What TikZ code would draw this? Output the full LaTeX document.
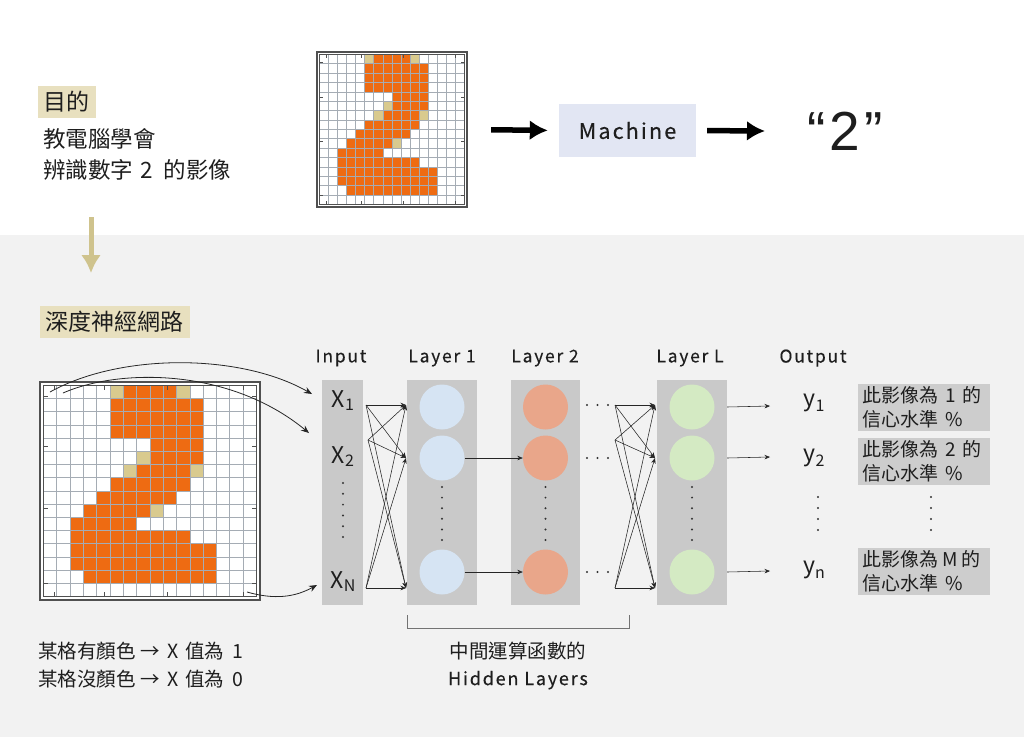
\documentclass[tikz,border=0pt]{standalone}
\usepackage{fontspec}
\setmainfont{Noto Sans CJK TC}
\newfontfamily\latsp[LetterSpace=10,FakeBold=0.3]{Noto Sans CJK TC}
\newfontfamily\arialf{Liberation Sans}
\usetikzlibrary{arrows.meta}
\definecolor{bggray}{HTML}{F2F2F2}
\definecolor{colgray}{HTML}{C9C9C9}
\definecolor{nblue}{HTML}{D6E4F3}
\definecolor{nsalmon}{HTML}{E9A68A}
\definecolor{ngreen}{HTML}{D4EAC3}
\definecolor{cellorange}{HTML}{EE6B12}
\definecolor{cellyellow}{HTML}{D9CA8E}
\definecolor{tanfill}{HTML}{E8E0BF}
\definecolor{tanarrow}{HTML}{CFC38D}
\definecolor{machfill}{HTML}{E2E6F3}
\definecolor{outgray}{HTML}{CDCDCD}
\definecolor{txt}{HTML}{1E1E1E}
\definecolor{cgrid}{HTML}{A5ACB4}
\definecolor{cedge}{HTML}{505050}
\newcommand\netsub[2]{\raisebox{#1}{\fontsize{16}{16}\selectfont #2}}
\newcommand\drawdigit[5]{%
\begin{scope}[shift={(#1,#2)}]
 \fill[white] (0,0) rectangle (#3,#4);
 \draw[cedge, line width=1.1pt] (0,0) rectangle (#3,#4);
 \pgfmathsetlengthmacro\dgcw{(#3-2*#5)/16}
 \pgfmathsetlengthmacro\dgch{(#4-2*#5)/16}
 \begin{scope}[shift={(#5,#5)}, x=\dgcw, y=-\dgch]
  \foreach \r/\a/\b in {0/6/9,1/5/11,2/5/11,3/5/11,4/8/11,5/8/11,6/7/10,7/5/10,8/4/9,9/3/7,10/2/6,11/2/10,12/2/12,13/2/12,14/3/12}
   {\foreach \c in {\a,...,\b} {\fill[cellorange] (\c,\r) rectangle ++(1,1);}}
  \foreach \r/\c in {0/5,0/10,5/7,6/6,6/11,9/8}
   {\fill[cellyellow] (\c,\r) rectangle ++(1,1);}
  \foreach \i in {1,...,15} {\draw[cgrid, line width=0.8pt] (\i,0) -- (\i,16); \draw[cgrid, line width=0.8pt] (0,\i) -- (16,\i);}
  \draw[cedge, line width=0.7pt] (0,0) rectangle (16,16);
  \foreach \t in {0.8,4.6,9.3,15.0} {
   \draw[cedge, line width=0.7pt] (\t,0) -- (\t,0.35);
   \draw[cedge, line width=0.7pt] (\t,16) -- (\t,15.65);
   \draw[cedge, line width=0.7pt] (0,\t) -- (0.35,\t);
   \draw[cedge, line width=0.7pt] (16,\t) -- (15.65,\t);}
 \end{scope}
\end{scope}}
\begin{document}
\begin{tikzpicture}[x=1pt,y=-1pt,
  every node/.style={text=txt},
  tanbox/.style={fill=tanfill, inner xsep=6pt, inner ysep=0pt, minimum height=32pt, font=\fontsize{23}{23}\selectfont},
  bigarrow/.style={line width=5.5pt, draw=black, -{Latex[length=18pt,width=20pt]}},
  tanarr/.style={line width=5pt, draw=tanarrow, -{Latex[length=18pt,width=20pt]}},
  colbox/.style={fill=colgray, minimum height=225pt, inner sep=0pt},
  neuron/.style={circle, minimum size=45pt, inner sep=0pt},
  lbl/.style={font=\latsp\fontsize{17.5}{17.5}\selectfont},
  xlab/.style={font=\fontsize{23}{23}\selectfont, inner sep=1pt},
  net/.style={draw=black!85, line width=0.55pt, -{Stealth[length=5.5pt,width=4.5pt]}},
  curvarr/.style={draw=black!85, line width=0.8pt, -{Stealth[length=8pt,width=6.5pt]}},
  outbox/.style={fill=outgray, minimum width=132pt, minimum height=45pt, text width=124pt, inner xsep=4pt, align=left, font=\fontsize{19}{23.5}\selectfont},
  vdot/.style={fill=black!80},
]
\useasboundingbox (0,0) rectangle (1024,737);
\fill[white] (0,0) rectangle (1024,235);
\fill[bggray] (0,235) rectangle (1024,737);

% ---------- top part ----------
\node[tanbox] (goal) at (66.5,101.5) {目的};
\node[anchor=west, align=left, inner sep=0pt, font=\fontsize{22.5}{31}\selectfont] (desc) at (43,154.5) {教電腦學會\\辨識數字\hspace{7pt}2\hspace{11pt}的影像};
\coordinate (ta) at (91,217);
\coordinate (tb) at (91,273);
\draw[tanarr] (ta) -- (tb);

\drawdigit{317}{52}{150}{155}{2.5}
\node[inner sep=0pt, minimum width=150pt, minimum height=155pt] (gtop) at (392,129.5) {};
\node[fill=machfill, minimum width=137pt, minimum height=53pt, inner sep=0pt, font=\latsp\fontsize{21.5}{21.5}\selectfont] (mach) at (627.5,130.5) {Machine};
\node[font=\arialf\fontsize{55}{55}\selectfont, inner sep=0pt] (q2) at (845,131) {“\kern4pt 2\kern4pt”};
\coordinate (a2e) at (765,131);
\draw[bigarrow, shorten <=24pt, shorten >=11pt] (gtop.east) -- (mach.west);
\draw[bigarrow, shorten <=11pt] (mach.east) -- (a2e);

% ---------- bottom part ----------
\node[tanbox] (dnn) at (114.5,321.5) {深度神經網路};
\drawdigit{40}{382}{220}{218}{3.5}

% columns
\node[colbox, minimum width=41pt] (colI) at (342.5,492.5) {};
\node[colbox, minimum width=70pt] (col1) at (442,492.5) {};
\node[colbox, minimum width=69pt] (col2) at (545.5,492.5) {};
\node[colbox, minimum width=70pt] (colL) at (692,492.5) {};

\node[lbl] (tIn) at (341,358) {Input};
\node[lbl] (tL1) at (442,358) {Layer 1};
\node[lbl] (tL2) at (545,358) {Layer 2};
\node[lbl] (tLL) at (690,358) {Layer L};
\node[lbl] (tOut) at (813,358) {Output};

\node[xlab] (x1) at (343,401) {X\netsub{-3pt}{1}};
\node[xlab] (x2) at (343,457) {X\netsub{-3pt}{2}};
\node[xlab] (xN) at (343,582) {X\netsub{-3pt}{N}};

\node[neuron, fill=nblue] (n11) at (442,407) {};
\node[neuron, fill=nblue] (n12) at (442,458) {};
\node[neuron, fill=nblue] (n13) at (442,572) {};
\node[neuron, fill=nsalmon] (n21) at (545.5,407) {};
\node[neuron, fill=nsalmon] (n22) at (545.5,458) {};
\node[neuron, fill=nsalmon] (n23) at (545.5,572) {};
\node[neuron, fill=ngreen] (nL1) at (692,407) {};
\node[neuron, fill=ngreen] (nL2) at (692,458) {};
\node[neuron, fill=ngreen] (nL3) at (692,572) {};

% vertical dots
\foreach \i in {0,...,5} {
 \fill[vdot] (343,483+\i*10.8) circle (1.1pt);
 \fill[vdot] (442,487+\i*10.6) circle (1.1pt);
 \fill[vdot] (545.5,487+\i*10.6) circle (1.1pt);
 \fill[vdot] (692,487+\i*10.6) circle (1.1pt);}
% horizontal dots
\foreach \yy in {405,458,572} {\foreach \xx in {587,597.5,608} {\fill[vdot] (\xx,\yy) circle (1.1pt);}}

% curved arrows from the picture
\coordinate (g1) at (50,392);
\coordinate (g2) at (63,393);
\coordinate (g3) at (247,592);
\coordinate (e1) at (312,394);
\coordinate (e2) at (309,433);
\coordinate (e3) at (317,585);
\draw[curvarr] (g1) .. controls (120,353) and (240,353) .. (e1);
\draw[curvarr] (g2) .. controls (120,368) and (230,368) .. (e2);
\draw[curvarr] (g3) .. controls (275,600) and (295,597) .. (e3);

% input -> layer 1
\coordinate (s1) at (366,405);
\coordinate (s2) at (368,440);
\coordinate (s3) at (366,588);
\coordinate (t1) at (406,405);
\coordinate (t2) at (406,458);
\coordinate (t3) at (406,588);
\foreach \s in {s1,s2,s3} {\foreach \t in {t1,t2,t3} {\draw[net] (\s) -- (\t);}}

% layer 1 -> layer 2
\draw[net] (n12.east) -- (n22.west);
\draw[net] (n13.east) -- (n23.west);

% ... -> layer L
\coordinate (r1) at (615,405);
\coordinate (r2) at (615,440);
\coordinate (r3) at (615,588);
\coordinate (u1) at (655,405);
\coordinate (u2) at (655,458);
\coordinate (u3) at (655,588);
\foreach \s in {r1,r2,r3} {\foreach \t in {u1,u2,u3} {\draw[net] (\s) -- (\t);}}

% layer L -> outputs
\coordinate (o1) at (770,406);
\coordinate (o2) at (770,457);
\coordinate (o3) at (770,571);
\draw[net] (nL1 -| colL.east) -- (o1);
\draw[net] (nL2 -| colL.east) -- (o2);
\draw[net] (nL3 -| colL.east) -- (o3);

\node[font=\fontsize{23}{23}\selectfont, inner sep=1pt] (y1) at (814,403) {y\netsub{-5pt}{1}};
\node[font=\fontsize{23}{23}\selectfont, inner sep=1pt] (y2) at (814,458) {y\netsub{-5pt}{2}};
\node[font=\fontsize{23}{23}\selectfont, inner sep=1pt] (yn) at (814,570) {y\netsub{-5pt}{n}};
\foreach \yy in {497,508,519,530} {\fill[vdot] (818,\yy) circle (1.1pt); \fill[vdot] (931,\yy) circle (1.1pt);}

\node[outbox] (b1) at (924,407.5) {此影像為\hspace{7pt}1\hspace{7pt}的\\信心水準\hspace{7pt}\%};
\node[outbox] (b2) at (924,461.5) {此影像為\hspace{7pt}2\hspace{7pt}的\\信心水準\hspace{7pt}\%};
\node[outbox] (b3) at (924,571.5) {此影像為\hspace{4pt}M\hspace{4pt}的\\信心水準\hspace{7pt}\%};

% bracket
\draw[black!55, line width=0.9pt] (407,615) -- (407,628) -- (629,628) -- (629,615);
\node[align=center, inner sep=0pt, font=\fontsize{19.5}{27}\selectfont] (hid) at (518,665.5) {中間運算函數的\\{\latsp\fontsize{18}{27}\selectfont Hidden Layers}};

\node[anchor=west, align=left, inner sep=0pt, font=\fontsize{19.5}{28}\selectfont] (rule) at (38,665) {某格有顏色\hspace{5pt}→\hspace{7pt}X\hspace{7pt}值為\hspace{8pt}1\\某格沒顏色\hspace{5pt}→\hspace{7pt}X\hspace{7pt}值為\hspace{8pt}0};
\end{tikzpicture}
\end{document}
